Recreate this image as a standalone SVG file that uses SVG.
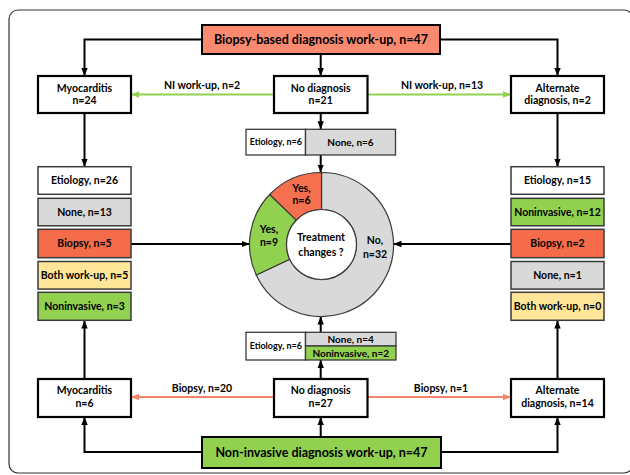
<svg xmlns="http://www.w3.org/2000/svg" width="630" height="475" viewBox="0 0 630 475">
<style>
text{font-family:Lato,"Liberation Sans",sans-serif;font-weight:700;fill:#000;text-anchor:middle}
.t{font-size:12.5px}
.m{font-size:10.5px}
.s{font-size:9px}
.n{font-size:10px}
.main{fill:#fff;stroke:#000;stroke-width:2.2}
.col{stroke:#3a3a3a;stroke-width:1.5}
.w{fill:#fff}.g{fill:#d9d9d9}.r{fill:#f46c4a}.y{fill:#ffe699}.gr{fill:#92d050}
.sm{stroke:#3a3a3a;stroke-width:1.3}
.k{fill:none;stroke:#000;stroke-width:2}
.lg{fill:none;stroke:#92d050;stroke-width:2}
.lr{fill:none;stroke:#f4846b;stroke-width:2}
.d{stroke:#3a3a3a;stroke-width:1.2}
</style>
<defs>
<marker id="ak" markerUnits="userSpaceOnUse" markerWidth="8" markerHeight="8" viewBox="0 0 8 8" refX="8" refY="4" orient="auto"><path d="M0,0.8 L8,4 L0,7.2 Z" fill="#000"/></marker>
<marker id="ag" markerUnits="userSpaceOnUse" markerWidth="8" markerHeight="8" viewBox="0 0 8 8" refX="8" refY="4" orient="auto"><path d="M0,0.8 L8,4 L0,7.2 Z" fill="#92d050"/></marker>
<marker id="ar" markerUnits="userSpaceOnUse" markerWidth="8" markerHeight="8" viewBox="0 0 8 8" refX="8" refY="4" orient="auto"><path d="M0,0.8 L8,4 L0,7.2 Z" fill="#f4846b"/></marker>
</defs>
<rect x="9" y="10" width="624" height="463" rx="9" fill="#fff" stroke="#333" stroke-width="1.2"/>
<g id="connectors">
<path class="k" d="M202,39.5 H84.5 V76" marker-end="url(#ak)"/>
<path class="k" d="M320.7,54 V76" marker-end="url(#ak)"/>
<path class="k" d="M440,39.5 H557.5 V76" marker-end="url(#ak)"/>
<path class="lg" d="M274,94.5 H131" marker-end="url(#ag)"/>
<path class="lg" d="M367.5,94.5 H511" marker-end="url(#ag)"/>
<path class="k" d="M320.7,113 V129.3" marker-end="url(#ak)"/>
<path class="k" d="M320.7,155 V172.5" marker-end="url(#ak)"/>
<path class="k" d="M84.5,113 V166.7" marker-end="url(#ak)"/>
<path class="k" d="M557.5,113 V166.7" marker-end="url(#ak)"/>
<path class="k" d="M131,244 H249.5" marker-end="url(#ak)"/>
<path class="k" d="M511,244 H393.5" marker-end="url(#ak)"/>
<path class="k" d="M320.7,332.3 V316.5" marker-end="url(#ak)"/>
<path class="k" d="M320.7,379 V360" marker-end="url(#ak)"/>
<path class="k" d="M84.5,379 V320.5" marker-end="url(#ak)"/>
<path class="k" d="M557.5,379 V320.5" marker-end="url(#ak)"/>
<path class="lr" d="M274,397 H131" marker-end="url(#ar)"/>
<path class="lr" d="M367.5,397 H511" marker-end="url(#ar)"/>
<path class="k" d="M202,452 H84.5 V417" marker-end="url(#ak)"/>
<path class="k" d="M320.7,437 V417" marker-end="url(#ak)"/>
<path class="k" d="M440,452 H557.5 V417" marker-end="url(#ak)"/>
<text class="m" x="202" y="88.7">NI work-up, n=2</text>
<text class="m" x="442" y="88.7">NI work-up, n=13</text>
<text class="m" x="202" y="391.7">Biopsy, n=20</text>
<text class="m" x="441" y="391.7">Biopsy, n=1</text>
</g>
<g id="biopsy-workup">
<rect x="202" y="25" width="238" height="29" fill="#f9896f" stroke="#000" stroke-width="2"/>
<text class="t" x="321" y="44">Biopsy-based diagnosis work-up, n=47</text>
</g>
<g id="myocarditis-top">
<rect class="main" x="38" y="76" width="93" height="37"/>
<text class="m" x="84.5" y="92">Myocarditis</text>
<text class="m" x="84.5" y="104.4">n=24</text>
</g>
<g id="nodiag-top">
<rect class="main" x="274" y="76" width="93.5" height="37"/>
<text class="m" x="320.7" y="92">No diagnosis</text>
<text class="m" x="320.7" y="104.4">n=21</text>
</g>
<g id="alternate-top">
<rect class="main" x="511" y="76" width="93" height="37"/>
<text class="m" x="557.5" y="92">Alternate</text>
<text class="m" x="557.5" y="104.4">diagnosis, n=2</text>
</g>
<g id="nodiag-top-outcome">
<rect class="sm w" x="246" y="129.3" width="59.5" height="25.7"/>
<rect class="sm g" x="305.5" y="129.3" width="90" height="25.7"/>
<text class="s" x="275.8" y="145.4">Etiology, n=6</text>
<text class="n" x="350.5" y="145.7">None, n=6</text>
</g>
<g id="left-outcomes">
<rect class="col w" x="38" y="166.7" width="93" height="27.6"/>
<text class="m" x="84.5" y="184.2">Etiology, n=26</text>
<rect class="col g" x="38" y="198.3" width="93" height="27.5"/>
<text class="m" x="84.5" y="215.7">None, n=13</text>
<rect class="col r" x="38" y="229.3" width="93" height="28.4"/>
<text class="m" x="84.5" y="247.2">Biopsy, n=5</text>
<rect class="col y" x="38" y="261.5" width="93" height="27.6"/>
<text class="m" x="84.5" y="279">Both work-up, n=5</text>
<rect class="col gr" x="38" y="292.3" width="93" height="28"/>
<text class="m" x="84.5" y="310">Noninvasive, n=3</text>
</g>
<g id="right-outcomes">
<rect class="col w" x="511" y="166.7" width="93" height="27.6"/>
<text class="m" x="557.5" y="184.2">Etiology, n=15</text>
<rect class="col gr" x="511" y="198.3" width="93" height="27.5"/>
<text class="m" x="557.5" y="215.7">Noninvasive, n=12</text>
<rect class="col r" x="511" y="229.3" width="93" height="28.4"/>
<text class="m" x="557.5" y="247.2">Biopsy, n=2</text>
<rect class="col g" x="511" y="261.5" width="93" height="27.6"/>
<text class="m" x="557.5" y="279">None, n=1</text>
<rect class="col y" x="511" y="292.3" width="93" height="28"/>
<text class="m" x="557.5" y="310">Both work-up, n=0</text>
</g>
<g id="treatment-donut">
<path class="d" fill="#d9d9d9" d="M321.5,172.5 A72,72 0 1 1 256.25,274.93 L289.78,259.29 A35,35 0 1 0 321.5,209.5 Z"/>
<path class="d" fill="#92d050" d="M269.71,194.48 A72,72 0 0 0 256.25,274.93 L289.78,259.29 A35,35 0 0 1 296.32,220.19 Z"/>
<path class="d" fill="#f4704f" d="M321.5,172.5 A72,72 0 0 0 269.71,194.48 L296.32,220.19 A35,35 0 0 1 321.5,209.5 Z"/>
<circle class="d" cx="321.5" cy="244.5" r="35" fill="#fff"/>
<text class="m" x="301.5" y="192">Yes,</text>
<text class="m" x="301.5" y="204">n=6</text>
<text class="m" x="269" y="232.5">Yes,</text>
<text class="m" x="269" y="246">n=9</text>
<text class="m" x="321" y="241">Treatment</text>
<text class="m" x="321" y="255.5">changes ?</text>
<text class="m" x="375" y="244">No,</text>
<text class="m" x="375" y="258">n=32</text>
</g>
<g id="nodiag-bottom-outcome">
<rect class="sm w" x="246" y="332.3" width="59.5" height="27.7"/>
<rect class="sm g" x="305.5" y="332.3" width="90.5" height="13.7"/>
<rect class="sm gr" x="305.5" y="346" width="90.5" height="14"/>
<text class="s" x="275.8" y="349.2">Etiology, n=6</text>
<text class="n" x="350.7" y="342.7">None, n=4</text>
<text class="n" x="350.7" y="356.6">Noninvasive, n=2</text>
</g>
<g id="myocarditis-bottom">
<rect class="main" x="38" y="379" width="93" height="38"/>
<text class="m" x="84.5" y="394.4">Myocarditis</text>
<text class="m" x="84.5" y="407">n=6</text>
</g>
<g id="nodiag-bottom">
<rect class="main" x="274" y="379" width="93.5" height="38"/>
<text class="m" x="320.7" y="394.4">No diagnosis</text>
<text class="m" x="320.7" y="407">n=27</text>
</g>
<g id="alternate-bottom">
<rect class="main" x="511" y="379" width="93" height="38"/>
<text class="m" x="557.5" y="394.4">Alternate</text>
<text class="m" x="557.5" y="407">diagnosis, n=14</text>
</g>
<g id="noninvasive-workup">
<rect x="202" y="437" width="239" height="31" fill="#92d050" stroke="#000" stroke-width="2"/>
<text class="t" x="321.5" y="456.7">Non-invasive diagnosis work-up, n=47</text>
</g>
</svg>
